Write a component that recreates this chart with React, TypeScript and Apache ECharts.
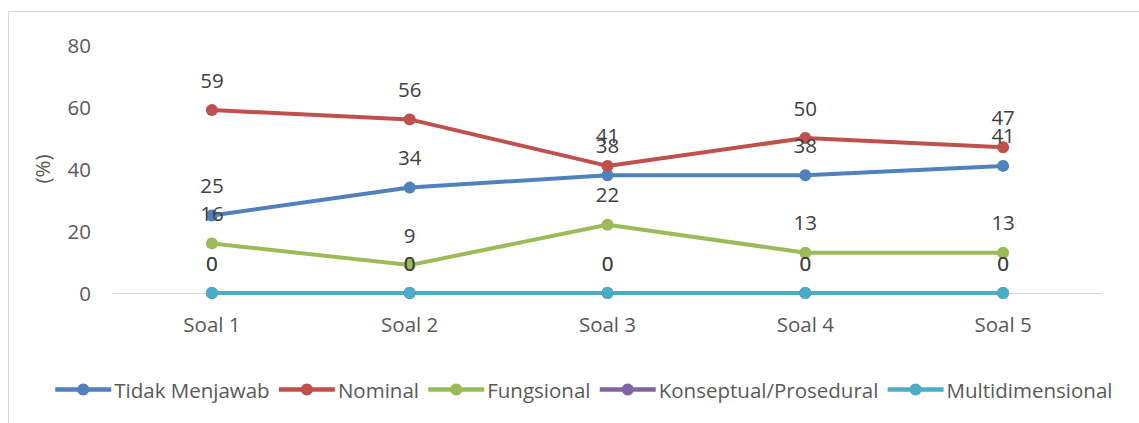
import React, { useEffect, useRef } from "react";
import * as echarts from "echarts";

const categories = ["Soal 1", "Soal 2", "Soal 3", "Soal 4", "Soal 5"];
const seriesNames = ["Tidak Menjawab", "Nominal", "Fungsional", "Konseptual/Prosedural", "Multidimensional"];
const tidakMenjawab = [25, 34, 38, 38, 41];
const nominal = [59, 56, 41, 50, 47];
const fungsional = [16, 9, 22, 13, 13];
const konseptual = [0, 0, 0, 0, 0];
const multidimensional = [0, 0, 0, 0, 0];
const colors = ["#4f81bd", "#c0504d", "#9bbb59", "#8064a2", "#4bacc6"];

const FONT = "'Open Sans', 'Noto Sans', sans-serif";

export default function App() {
  const ref = useRef<HTMLDivElement>(null);
  useEffect(() => {
    document.body.style.margin = "0";
    if (!ref.current) return;
    const chart = echarts.init(ref.current, undefined, { renderer: "svg" });
    const values = [tidakMenjawab, nominal, fungsional, konseptual, multidimensional];
    chart.setOption({
      animation: false,
      color: colors,
      graphic: [
        {
          type: "rect",
          shape: { x: 8.5, y: 11.5, width: 1140, height: 420 },
          style: { fill: "none", stroke: "#d9d9d9", lineWidth: 1 },
          silent: true,
        },
      ],
      grid: { left: 113, right: 37, top: 45, bottom: 130 },
      legend: {
        left: 48,
        top: 374,
        itemWidth: 56,
        itemHeight: 15,
        itemGap: 7,
        lineStyle: { width: 4.5 },
        textStyle: { fontFamily: FONT, fontSize: 20.5, color: "#595959", padding: [0, 0, 0, -2] },
        data: seriesNames,
      },
      xAxis: {
        type: "category",
        data: categories,
        boundaryGap: true,
        axisLine: { lineStyle: { color: "#d9d9d9", width: 1 } },
        axisTick: { show: false },
        axisLabel: { fontFamily: FONT, fontSize: 20.5, color: "#595959", margin: 20 },
      },
      yAxis: {
        type: "value",
        min: 0,
        max: 80,
        interval: 20,
        name: "(%)",
        nameLocation: "middle",
        nameRotate: 90,
        nameGap: 61,
        nameTextStyle: { fontFamily: FONT, fontSize: 20.5, color: "#595959" },
        axisLine: { show: false },
        axisTick: { show: false },
        splitLine: { show: false },
        axisLabel: { fontFamily: FONT, fontSize: 20.5, color: "#595959", margin: 22 },
      },
      series: seriesNames.map((name, i) => ({
        name,
        type: "line",
        data: values[i],
        symbol: "circle",
        symbolSize: 12,
        lineStyle: { width: 4, color: colors[i] },
        itemStyle: { color: colors[i] },
        label: {
          show: true,
          position: "top",
          distance: 14,
          fontFamily: FONT,
          fontSize: 20.5,
          color: "#404040",
        },
      })),
    });
    return () => chart.dispose();
  }, []);
  return <div ref={ref} style={{ width: 1139, height: 423 }} />;
}
